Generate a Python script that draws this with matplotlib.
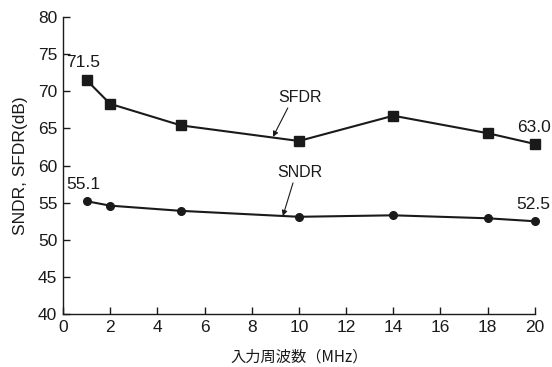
import matplotlib
matplotlib.use("Agg")
import matplotlib.pyplot as plt

freq = [1, 2, 5, 10, 14, 18, 20]
sfdr = [71.5, 68.3, 65.4, 63.3, 66.7, 64.35, 62.9]
sndr = [55.2, 54.6, 53.9, 53.1, 53.3, 52.9, 52.5]
xticks = [0, 2, 4, 6, 8, 10, 12, 14, 16, 18, 20]
yticks = [40, 45, 50, 55, 60, 65, 70, 75, 80]

plt.rcParams['font.family'] = ['Liberation Sans', 'Noto Sans CJK JP', 'DejaVu Sans']

fig = plt.figure(figsize=(5.52, 3.67), dpi=100)
ax = fig.add_axes([0.114, 0.144, 0.855, 0.810])
c = '#1a1a1a'
ax.plot(freq, sfdr, color=c, lw=1.5, marker='s', markersize=6.5, clip_on=False, zorder=3)
ax.plot(freq, sndr, color=c, lw=1.5, marker='o', markersize=5.5, clip_on=False, zorder=3)

ax.set_xlim(0, 20)
ax.set_ylim(40, 80)
ax.set_xticks(xticks)
ax.set_yticks(yticks)
ax.tick_params(direction='in', length=5, width=1, labelsize=12.5, colors=c, pad=4)
for s in ['top', 'right']:
    ax.spines[s].set_visible(False)
for s in ['left', 'bottom']:
    ax.spines[s].set_linewidth(1)
    ax.spines[s].set_color(c)

ax.set_xlabel('入力周波数（MHz）', fontsize=11, color=c, family=['Noto Sans CJK JP', 'Liberation Sans'], labelpad=10)
ax.set_ylabel('SNDR, SFDR(dB)', fontsize=12.5, color=c, labelpad=7)

fs = 12.5
ax.text(0.85, 73.8, '71.5', fontsize=fs, color=c, ha='center', va='center')
ax.text(0.85, 57.4, '55.1', fontsize=fs, color=c, ha='center', va='center')
ax.text(19.95, 65.06, '63.0', fontsize=fs, color=c, ha='center', va='center')
ax.text(19.95, 54.7, '52.5', fontsize=fs, color=c, ha='center', va='center')

ax.text(10.04, 69.1, 'SFDR', fontsize=11.5, color=c, ha='center', va='center')
ax.text(10.04, 59.1, 'SNDR', fontsize=11.5, color=c, ha='center', va='center')
arrow = dict(arrowstyle='-|>', color=c, lw=0.8, mutation_scale=8, shrinkA=0, shrinkB=0)
ax.annotate('', xy=(8.9, 63.85), xytext=(9.53, 67.75), arrowprops=arrow)
ax.annotate('', xy=(9.32, 53.2), xytext=(9.75, 57.66), arrowprops=arrow)

fig.savefig('out.png', dpi=100)
